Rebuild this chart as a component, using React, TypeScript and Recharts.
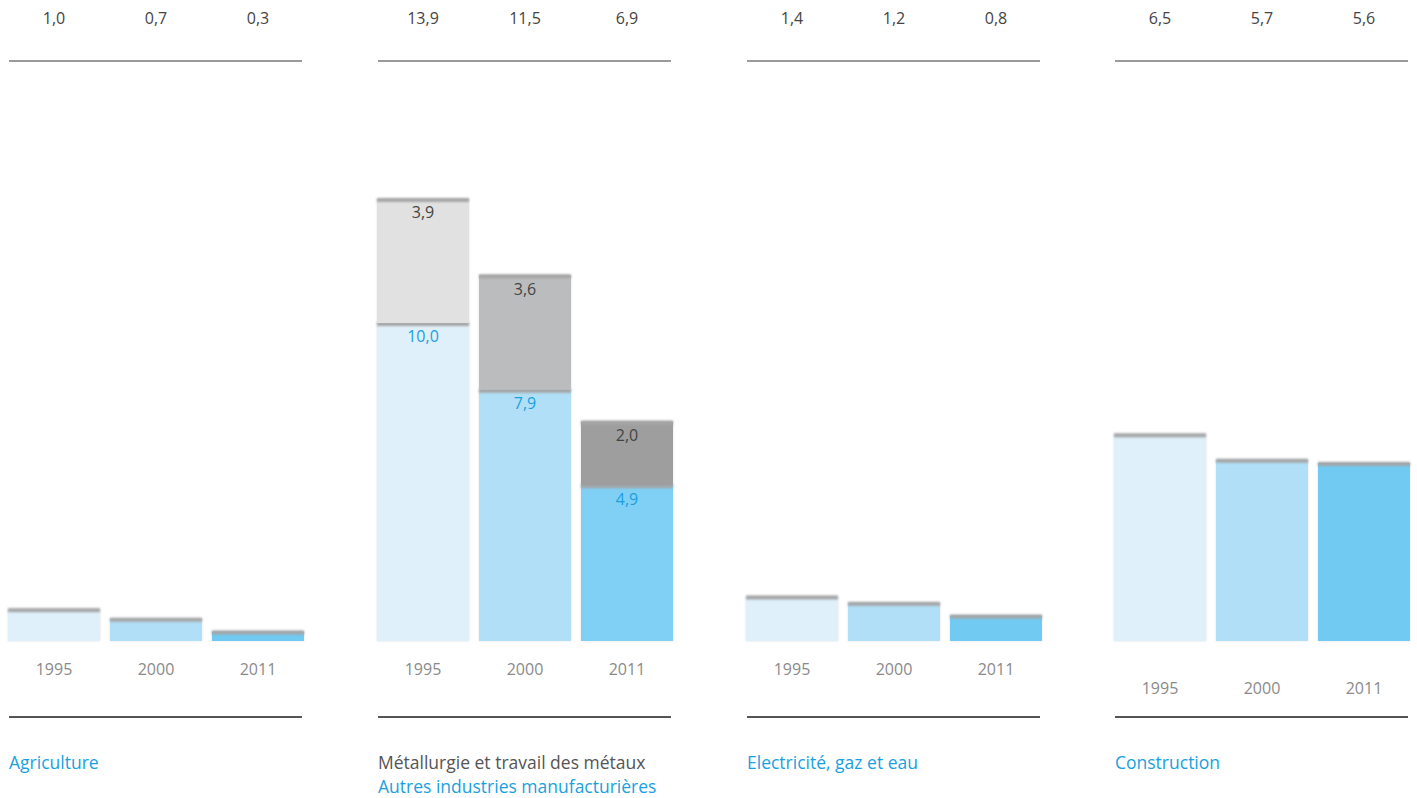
import { Bar, BarChart, Cell, LabelList, XAxis, YAxis } from 'recharts'

const years = ['1995', '2000', '2011']
const agriculture = [1.0, 0.7, 0.3]
const autresIndustries = [10.0, 7.9, 4.9]
const metallurgie = [3.9, 3.6, 2.0]
const electricite = [1.4, 1.2, 0.8]
const construction = [6.5, 5.7, 5.6]

const FONT = '"Open Sans", "Noto Sans", sans-serif'
const BLUE_TEXT = '#1a9fe0'
const Y_MAX = 18.24

const blues = ['#dff0fb', '#b0dff7', '#6fcaf2']
const bluesMetal = ['#dff0fb', '#b0dff7', '#80d0f5']
const greys = ['#e1e1e1', '#bbbcbd', '#9d9e9d']

const fmt = (v: any) => Number(v).toFixed(1).replace('.', ',')

interface Series {
  key: string
  values: number[]
  colors: string[]
  labelColor?: string
}

function BarShape(props: any) {
  const { x, y, width, height, fill, uid } = props
  if (!height || height <= 0) return null
  return (
    <g>
      <rect x={x} y={y} width={width} height={height} fill={fill} filter={`url(#side-${uid})`} />
      <rect x={x} y={y - 1} width={width} height={4} fill="#a6a6a6" filter={`url(#band-${uid})`} />
    </g>
  )
}

function Panel({
  uid,
  left,
  series,
  titles,
  yearMargin = 17,
}: {
  uid: string
  left: number
  series: Series[]
  titles: { text: string; color: string }[]
  yearMargin?: number
}) {
  const rows = years.map((year, i) => {
    const row: Record<string, any> = { year }
    let total = 0
    series.forEach(s => {
      row[s.key] = s.values[i]
      total += s.values[i]
    })
    row.total = fmt(total)
    return row
  })

  return (
    <div style={{ position: 'absolute', left, top: 0, width: 312, height: 798 }}>
      <BarChart
        width={312}
        height={700}
        data={rows}
        margin={{ top: 0, right: 3, bottom: 0, left: 3 }}
        barCategoryGap={5}
      >
        <defs>
          <filter id={`band-${uid}`} x="-5%" y="-100%" width="110%" height="300%">
            <feGaussianBlur stdDeviation="0.9" />
          </filter>
          <filter id={`side-${uid}`} x="-5%" y="-5%" width="110%" height="110%">
            <feDropShadow dx="0" dy="0" stdDeviation="1" floodColor="#000" floodOpacity="0.12" />
          </filter>
        </defs>
        <XAxis
          xAxisId="top"
          orientation="top"
          dataKey="total"
          height={61}
          axisLine={false}
          tickLine={false}
          tickMargin={31}
          tick={{ fontSize: 16, fill: '#444', fontFamily: FONT }}
          interval={0}
        />
        <XAxis
          xAxisId="bottom"
          dataKey="year"
          height={59}
          axisLine={false}
          tickLine={false}
          tickMargin={yearMargin}
          tick={{ fontSize: 16, fill: '#8a8a8a', fontFamily: FONT }}
          interval={0}
        />
        <YAxis hide domain={[0, Y_MAX]} />
        {series.map(s => (
          <Bar
            key={s.key}
            dataKey={s.key}
            xAxisId="bottom"
            stackId="a"
            isAnimationActive={false}
            shape={(p: any) => <BarShape {...p} uid={uid} />}
          >
            {s.colors.map((c, i) => (
              <Cell key={i} fill={c} />
            ))}
            {s.labelColor && (
              <LabelList
                dataKey={s.key}
                position="insideTop"
                offset={8}
                formatter={fmt}
                fill={s.labelColor}
                style={{ fontSize: 16, fontFamily: FONT, fill: s.labelColor }}
              />
            )}
          </Bar>
        ))}
      </BarChart>
      <div style={{ position: 'absolute', left: 9, top: 60, width: 293, height: 2, background: '#9a9a9a' }} />
      <div style={{ position: 'absolute', left: 9, top: 716, width: 293, height: 2, background: '#555' }} />
      <div style={{ position: 'absolute', left: 9, top: 750, fontFamily: FONT, fontSize: 17.5, lineHeight: '24px' }}>
        {titles.map(t => (
          <div key={t.text} style={{ color: t.color, whiteSpace: 'nowrap' }}>
            {t.text}
          </div>
        ))}
      </div>
    </div>
  )
}

export default function App() {
  return (
    <div
      style={{
        position: 'absolute',
        left: 0,
        top: 0,
        width: 1417,
        height: 798,
        background: '#fff',
        overflow: 'hidden',
      }}
    >
      <Panel
        uid="agr"
        left={0}
        series={[{ key: 'agriculture', values: agriculture, colors: blues }]}
        titles={[{ text: 'Agriculture', color: BLUE_TEXT }]}
      />
      <Panel
        uid="met"
        left={369}
        series={[
          { key: 'autres', values: autresIndustries, colors: bluesMetal, labelColor: BLUE_TEXT },
          { key: 'metal', values: metallurgie, colors: greys, labelColor: '#444' },
        ]}
        titles={[
          { text: 'Métallurgie et travail des métaux', color: '#555' },
          { text: 'Autres industries manufacturières', color: BLUE_TEXT },
        ]}
      />
      <Panel
        uid="ele"
        left={738}
        series={[{ key: 'electricite', values: electricite, colors: blues }]}
        titles={[{ text: 'Electricité, gaz et eau', color: BLUE_TEXT }]}
      />
      <Panel
        uid="con"
        left={1106}
        series={[{ key: 'construction', values: construction, colors: blues }]}
        titles={[{ text: 'Construction', color: BLUE_TEXT }]}
        yearMargin={36}
      />
    </div>
  )
}
